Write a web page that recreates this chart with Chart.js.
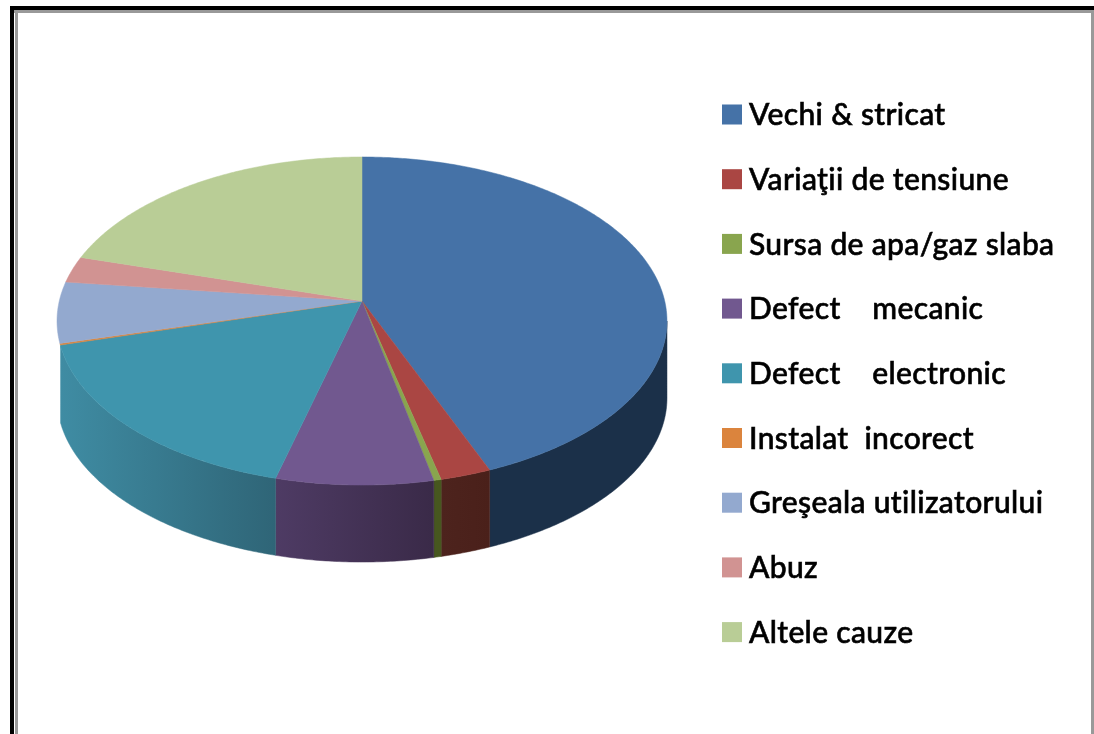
<!DOCTYPE html>
<html>
<head>
<meta charset="utf-8">
<script src="https://cdn.jsdelivr.net/npm/chart.js@4"></script>
<style>
  html, body { margin: 0; padding: 0; background: #fff; overflow: hidden; }
  canvas { display: block; filter: blur(0.6px); }
</style>
</head>
<body>
<canvas id="chart" width="1094" height="734"></canvas>
<script>
const categories = ['Vechi & stricat', 'Variaţii de tensiune', 'Sursa de apa/gaz slaba', 'Defect    mecanic', 'Defect    electronic', 'Instalat  incorect', 'Greşeala utilizatorului', 'Abuz', 'Altele cauze'];
const values = [43.9, 2.4, 0.35, 7.4, 16.7, 0.15, 6, 2.6, 20.5];
const topColors = ['#4572a7', '#aa4643', '#89a54e', '#71588f', '#3f95ad', '#db843d', '#93a9cf', '#d19392', '#b9cd96'];
const sideLeft = ['#1b3049', '#4d231d', '#47571f', '#4e3b64', '#3f8ca3', '#6e421e', '#4a5568', '#684948', '#5c664b'];
const sideRight = ['#1b3049', '#4a201a', '#47571f', '#3a2a48', '#2f6577', '#6e421e', '#4a5568', '#684948', '#5c664b'];

// geometrie felie 3D: cercul unitate proiectat spre ecran
const cx = 362, cy = 301, ax = 302.7, by = 161.6, persp = 0.122, depth = 77;

function rim(theta) {
  const x = Math.sin(theta), y = -Math.cos(theta), w = 1 - persp * y;
  return [cx + ax * x / w, cy + by * y / w];
}

function sample(from, to) {
  const pts = [], n = Math.max(2, Math.ceil((to - from) / 0.01));
  for (let i = 0; i <= n; i++) pts.push(rim(from + (to - from) * i / n));
  return pts;
}

const pie3d = {
  id: 'pie3d',
  beforeDatasetsDraw(chart) {
    const ctx = chart.ctx;
    const arcs = chart.getDatasetMeta(0).data;
    // peretele se vede doar pe partea din fata (de la dreapta pana la felia electronic)
    const frontFrom = Math.PI - Math.acos(persp), frontTo = 4.44;

    arcs.forEach((arc, i) => {
      const from = Math.max(arc.startAngle + Math.PI / 2, frontFrom);
      const to = Math.min(arc.endAngle + Math.PI / 2, frontTo);
      if (to <= from) return;
      const pts = sample(from, to);
      const xs = pts.map(p => p[0]);
      const grad = ctx.createLinearGradient(Math.min(...xs), 0, Math.max(...xs), 0);
      grad.addColorStop(0, sideLeft[i]);
      grad.addColorStop(1, sideRight[i]);
      ctx.beginPath();
      pts.forEach((p, j) => j ? ctx.lineTo(p[0], p[1]) : ctx.moveTo(p[0], p[1]));
      pts.slice().reverse().forEach(p => ctx.lineTo(p[0], p[1] + depth));
      ctx.closePath();
      ctx.fillStyle = grad;
      ctx.strokeStyle = grad;
      ctx.lineWidth = 0.5;
      ctx.fill();
      ctx.stroke();
    });

    // fata de sus
    arcs.forEach((arc, i) => {
      const pts = sample(arc.startAngle + Math.PI / 2, arc.endAngle + Math.PI / 2);
      ctx.beginPath();
      ctx.moveTo(cx, cy);
      pts.forEach(p => ctx.lineTo(p[0], p[1]));
      ctx.closePath();
      ctx.fillStyle = topColors[i];
      ctx.strokeStyle = topColors[i];
      ctx.lineWidth = 0.5;
      ctx.fill();
      ctx.stroke();
    });
    return false;
  },
  afterDraw(chart) {
    const ctx = chart.ctx;
    // rama
    ctx.fillStyle = '#000';
    ctx.fillRect(10, 6, 1084, 4);
    ctx.fillRect(10, 6, 4, 728);
    ctx.fillStyle = '#999';
    ctx.fillRect(14, 10, 1080, 3);
    ctx.fillRect(15, 10, 3, 724);
    ctx.fillRect(1091, 10, 3, 724);

    // legenda
    ctx.font = '500 30px Lato';
    ctx.letterSpacing = '0.35px';
    ctx.textBaseline = 'middle';
    categories.forEach((label, i) => {
      const y = 114.5 + i * 64.7;
      ctx.fillStyle = topColors[i];
      ctx.fillRect(722, y - 10, 20, 20);
      ctx.fillStyle = '#000';
      ctx.strokeStyle = '#000';
      ctx.lineWidth = 0.6;
      ctx.fillText(label, 749, y + 1);
      ctx.strokeText(label, 749, y + 1);
    });
  }
};

new Chart(document.getElementById('chart'), {
  type: 'pie',
  data: {
    labels: categories,
    datasets: [{ data: values, backgroundColor: topColors, borderWidth: 0 }]
  },
  options: {
    responsive: false,
    animation: false,
    plugins: { legend: { display: false }, tooltip: { enabled: false } }
  },
  plugins: [pie3d]
});
</script>
</body>
</html>
